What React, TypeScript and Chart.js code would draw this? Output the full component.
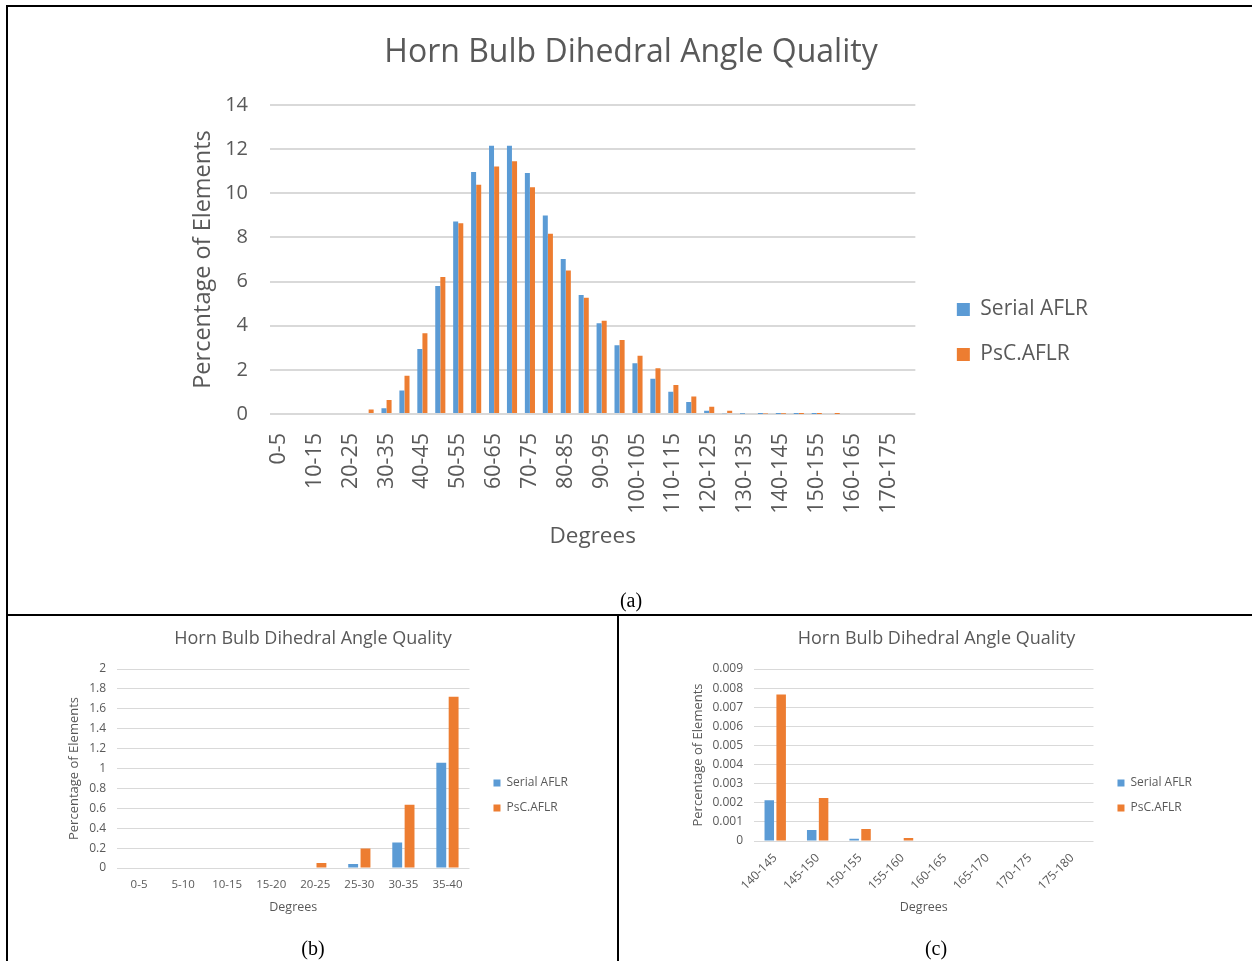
import React, { useEffect, useRef } from 'react';
import { Chart, registerables } from 'chart.js';

Chart.register(...registerables);

// ---------- data ----------
const seriesNames = ['Serial AFLR', 'PsC.AFLR'];
const chartTitle = 'Horn Bulb Dihedral Angle Quality';
const yAxisTitle = 'Percentage of Elements';
const xAxisTitle = 'Degrees';

const mainCategories = [
  '0-5', '5-10', '10-15', '15-20', '20-25', '25-30', '30-35', '35-40', '40-45', '45-50',
  '50-55', '55-60', '60-65', '65-70', '70-75', '75-80', '80-85', '85-90', '90-95', '95-100',
  '100-105', '105-110', '110-115', '115-120', '120-125', '125-130', '130-135', '135-140', '140-145', '145-150',
  '150-155', '155-160', '160-165', '165-170', '170-175', '175-180',
];
const mainSerial = [
  0, 0, 0, 0, 0, 0.04, 0.26, 1.06, 2.95, 5.8,
  8.72, 10.97, 12.15, 12.15, 10.92, 8.99, 7.02, 5.39, 4.11, 3.11,
  2.3, 1.6, 1.01, 0.54, 0.15, 0.03, 0.01, 0.004, 0.0022, 0.0006,
  0.00015, 0, 0, 0, 0, 0,
];
const mainPsc = [
  0, 0, 0, 0, 0.05, 0.2, 0.63, 1.73, 3.66, 6.21,
  8.64, 10.39, 11.21, 11.45, 10.27, 8.17, 6.5, 5.27, 4.23, 3.35,
  2.64, 2.07, 1.31, 0.79, 0.33, 0.15, 0.04, 0.02, 0.0077, 0.0023,
  0.00068, 0.0002, 0, 0, 0, 0,
];
const mainYTicks = [0, 2, 4, 6, 8, 10, 12, 14];

const lowCategories = ['0-5', '5-10', '10-15', '15-20', '20-25', '25-30', '30-35', '35-40'];
const lowSerial = [0, 0, 0, 0, 0, 0.04, 0.257, 1.057];
const lowPsc = [0, 0, 0, 0, 0.05, 0.197, 0.635, 1.722];
const lowYTicks = [0, 0.2, 0.4, 0.6, 0.8, 1, 1.2, 1.4, 1.6, 1.8, 2];

const highCategories = ['140-145', '145-150', '150-155', '155-160', '160-165', '165-170', '170-175', '175-180'];
const highSerial = [0.00213, 0.00058, 0.00012, 0, 0, 0, 0, 0];
const highPsc = [0.00767, 0.00225, 0.00063, 0.00016, 0, 0, 0, 0];
const highYTicks = [0, 0.001, 0.002, 0.003, 0.004, 0.005, 0.006, 0.007, 0.008, 0.009];

// ---------- styles ----------
const FONT = "'Open Sans', sans-serif";
const TEXT = '#595959';
const GRID = '#D9D9D9';
const BLUE = '#5B9BD5';
const ORANGE = '#ED7D31';

type Panel = {
  left: number; top: number; width: number; height: number;
  labels: string[]; serial: number[]; psc: number[]; yTicks: number[];
  yFmt: (v: number) => string;
  titleSize: number; titlePadTop: number; titlePadBottom: number;
  padLeft: number;
  yWidth: number; yTickSize: number; yTickPad: number; yTitleSize: number; yTitlePad: number;
  xHeight: number; xTickSize: number; xTickPad: number; xRot: number; xTitleSize: number; xTitlePad: number;
  xSkipOdd: boolean;
  rightGap: number; legendSize: number; legendBox: number; legendPad: number;
  gridWidth: number; catPct: number; barPct: number;
};

const panels: Panel[] = [
  {
    left: 164, top: 10, width: 934, height: 644,
    labels: mainCategories, serial: mainSerial, psc: mainPsc, yTicks: mainYTicks,
    yFmt: (v) => String(v),
    titleSize: 32, titlePadTop: 23.8, titlePadBottom: 32.8,
    padLeft: 0,
    yWidth: 106, yTickSize: 20, yTickPad: 22, yTitleSize: 23.5, yTitlePad: 24.9,
    xHeight: 240, xTickSize: 21.5, xTickPad: 19, xRot: 90, xTitleSize: 22.5, xTitlePad: 103.5,
    xSkipOdd: true,
    rightGap: 17.5, legendSize: 21, legendBox: 13, legendPad: 24,
    gridWidth: 2, catPct: 0.57, barPct: 0.98,
  },
  {
    left: 10, top: 617, width: 568, height: 357,
    labels: lowCategories, serial: lowSerial, psc: lowPsc, yTicks: lowYTicks,
    yFmt: (v) => String(Math.round(v * 10) / 10),
    titleSize: 18, titlePadTop: 11.2, titlePadBottom: 19.2,
    padLeft: 38,
    yWidth: 69, yTickSize: 12, yTickPad: 11, yTitleSize: 13, yTitlePad: 18.7,
    xHeight: 106, xTickSize: 11.5, xTickPad: 10, xRot: 0, xTitleSize: 12.5, xTitlePad: 59.5,
    xSkipOdd: false,
    rightGap: 11, legendSize: 12, legendBox: 7, legendPad: 13,
    gridWidth: 1, catPct: 0.56, barPct: 0.8,
  },
  {
    left: 621, top: 617, width: 581, height: 357,
    labels: highCategories, serial: highSerial, psc: highPsc, yTicks: highYTicks,
    yFmt: (v) => (v === 0 ? '0' : v.toFixed(3)),
    titleSize: 18, titlePadTop: 11.2, titlePadBottom: 19.2,
    padLeft: 50,
    yWidth: 83, yTickSize: 12, yTickPad: 11, yTitleSize: 13, yTitlePad: 19.2,
    xHeight: 133, xTickSize: 12, xTickPad: 10, xRot: 45, xTitleSize: 12.5, xTitlePad: 59.5,
    xSkipOdd: false,
    rightGap: 11, legendSize: 12, legendBox: 7, legendPad: 13,
    gridWidth: 1, catPct: 0.56, barPct: 0.8,
  },
];

function ChartPanel({ p }: { p: Panel }) {
  const ref = useRef<HTMLCanvasElement | null>(null);
  useEffect(() => {
    if (!ref.current) return;
    const chart = new Chart(ref.current, {
      type: 'bar',
      data: {
        labels: p.labels,
        datasets: [
          { label: seriesNames[0], data: p.serial, backgroundColor: BLUE, borderWidth: 0, categoryPercentage: p.catPct, barPercentage: p.barPct },
          { label: seriesNames[1], data: p.psc, backgroundColor: ORANGE, borderWidth: 0, categoryPercentage: p.catPct, barPercentage: p.barPct },
        ],
      },
      options: {
        responsive: false,
        animation: false,
        devicePixelRatio: 1,
        layout: { padding: { left: p.padLeft, right: 0, top: 0, bottom: 0 } },
        plugins: {
          tooltip: { enabled: false },
          title: {
            display: true,
            text: chartTitle,
            color: TEXT,
            font: { family: FONT, size: p.titleSize, weight: 'normal' },
            padding: { top: p.titlePadTop, bottom: p.titlePadBottom },
          },
          legend: {
            display: true,
            position: 'right',
            align: 'center',
            maxWidth: 400,
            labels: {
              color: TEXT,
              boxWidth: p.legendBox,
              boxHeight: p.legendBox,
              padding: p.legendPad,
              font: { family: FONT, size: p.legendSize },
            },
          },
        },
        scales: {
          x: {
            type: 'category',
            grid: { display: false, drawTicks: false },
            border: { display: false },
            ticks: {
              autoSkip: false,
              minRotation: p.xRot,
              maxRotation: p.xRot,
              padding: p.xTickPad,
              color: TEXT,
              font: { family: FONT, size: p.xTickSize },
              callback: (_v: any, i: number) => (p.xSkipOdd && i % 2 === 1 ? '' : p.labels[i]),
            },
            title: {
              display: true,
              text: xAxisTitle,
              color: TEXT,
              font: { family: FONT, size: p.xTitleSize },
              padding: { top: 0, bottom: p.xTitlePad },
            },
            afterFit: (s: any) => { s.height = p.xHeight; },
          },
          y: {
            type: 'linear',
            min: p.yTicks[0],
            max: p.yTicks[p.yTicks.length - 1],
            afterBuildTicks: (s: any) => { s.ticks = p.yTicks.map((v) => ({ value: v })); },
            grid: { color: GRID, lineWidth: p.gridWidth, drawTicks: false },
            border: { display: false },
            ticks: {
              padding: p.yTickPad,
              color: TEXT,
              font: { family: FONT, size: p.yTickSize },
              callback: (v: any) => p.yFmt(Number(v)),
            },
            title: {
              display: true,
              text: yAxisTitle,
              color: TEXT,
              font: { family: FONT, size: p.yTitleSize },
              padding: { top: p.yTitlePad, bottom: 0 },
            },
            afterFit: (s: any) => { s.width = p.yWidth; },
          },
          gap: {
            type: 'linear',
            position: 'right',
            display: true,
            grid: { display: false, drawTicks: false },
            border: { display: false },
            ticks: { display: false },
            afterFit: (s: any) => { s.width = p.rightGap; },
          },
        },
      } as any,
    });
    return () => chart.destroy();
  }, [p]);
  return (
    <canvas
      ref={ref}
      width={p.width}
      height={p.height}
      style={{ position: 'absolute', left: p.left, top: p.top, width: p.width, height: p.height }}
    />
  );
}

const line = (left: number, top: number, width: number, height: number) => (
  <div style={{ position: 'absolute', left, top, width, height, background: '#000' }} />
);

const caption = (text: string, cx: number, cy: number) => (
  <div
    style={{
      position: 'absolute', left: cx - 40, top: cy - 12, width: 80, height: 24,
      lineHeight: '24px', textAlign: 'center', fontFamily: "'Liberation Serif', 'Times New Roman', serif",
      fontSize: 20, color: '#000',
    }}
  >
    {text}
  </div>
);

export default function App() {
  return (
    <div style={{ position: 'absolute', left: 0, top: 0, width: 1252, height: 961, overflow: 'hidden', background: '#fff' }}>
      {panels.map((p, i) => <ChartPanel key={i} p={p} />)}
      {caption('(a)', 631, 600)}
      {caption('(b)', 313, 948)}
      {caption('(c)', 936, 948)}
      {line(6, 5, 1246, 2)}
      {line(6, 5, 2, 956)}
      {line(6, 614, 1246, 2)}
      {line(617, 614, 2, 347)}
    </div>
  );
}
